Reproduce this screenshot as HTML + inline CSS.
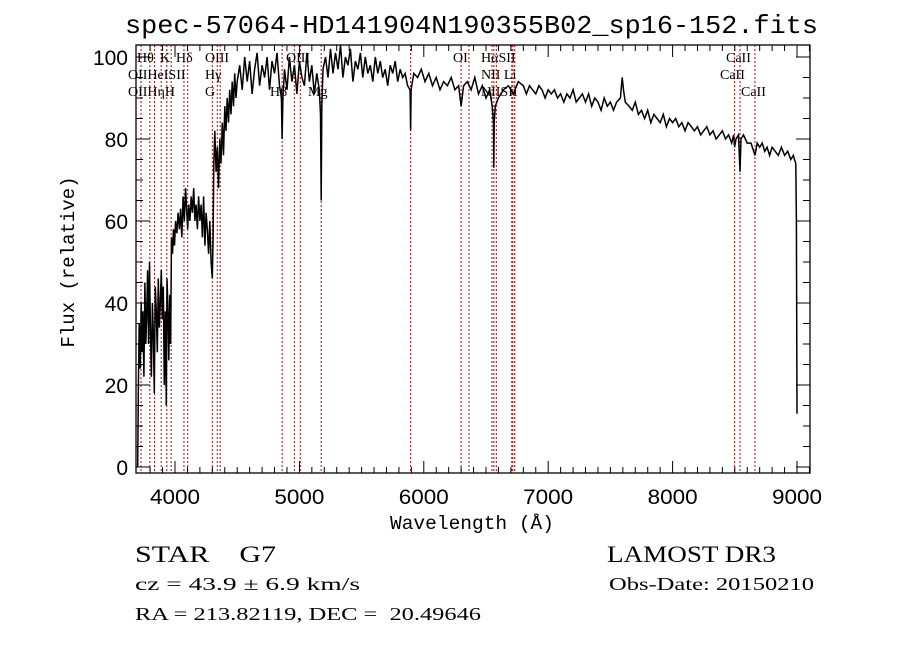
<!DOCTYPE html>
<html><head><meta charset="utf-8"><style>
body{margin:0;background:#fff;}
svg{display:block;}
</style></head><body>
<svg id="chart" width="900" height="649" xmlns="http://www.w3.org/2000/svg">
<rect width="900" height="649" fill="#fff"/>
<text x="125" y="33" textLength="693" lengthAdjust="spacingAndGlyphs" font-family="Liberation Mono, monospace" font-size="26">spec-57064-HD141904N190355B02_sp16-152.fits</text>
<g id="lines"></g>
<g id="labels"></g>
<path id="spec" fill="none" stroke="#000" stroke-width="1.5"/>
<g id="axes"></g>
<text x="390" y="529" textLength="164" lengthAdjust="spacingAndGlyphs" font-family="Liberation Mono, monospace" font-size="19">Wavelength (Å)</text>
<text transform="translate(74,262) rotate(-90)" text-anchor="middle" font-family="Liberation Mono, monospace" font-size="19">Flux (relative)</text>
<text x="135" y="562" textLength="141" lengthAdjust="spacingAndGlyphs" font-family="Liberation Serif, serif" font-size="23" xml:space="preserve">STAR    G7</text>
<text x="607" y="562" textLength="169" lengthAdjust="spacingAndGlyphs" font-family="Liberation Serif, serif" font-size="23">LAMOST DR3</text>
<text x="135" y="590" textLength="225" lengthAdjust="spacingAndGlyphs" font-family="Liberation Serif, serif" font-size="18">cz = 43.9 ± 6.9 km/s</text>
<text x="609" y="590" textLength="205" lengthAdjust="spacingAndGlyphs" font-family="Liberation Serif, serif" font-size="18">Obs-Date: 20150210</text>
<text x="135" y="620" textLength="346" lengthAdjust="spacingAndGlyphs" font-family="Liberation Serif, serif" font-size="18" xml:space="preserve">RA = 213.82119, DEC =  20.49646</text>
</svg>
<script>
const wavelengths=[
3700,3705,3712,3720,3728,3735,3742,3750,3758,3765,
3772,3780,3788,3795,3802,3810,3818,3826,3834,3842,
3850,3858,3866,3874,3882,3890,3898,3906,3914,3922,
3930,3936,3942,3950,3958,3965,3972,3980,3988,3996,
4005,4015,4025,4035,4045,4055,4065,4075,4085,4095,
4102,4110,4120,4130,4140,4150,4160,4170,4180,4190,
4200,4210,4220,4230,4240,4250,4260,4270,4280,4290,
4300,4306,4312,4320,4330,4340,4350,4360,4370,4380,
4390,4400,4410,4420,4430,4440,4450,4460,4470,4480,
4490,4500,4520,4540,4560,4580,4600,4620,4640,4660,
4680,4700,4720,4740,4760,4780,4800,4820,4840,4855,
4861,4867,4880,4900,4920,4940,4960,4980,5000,5020,
5040,5060,5080,5100,5120,5140,5160,5170,5175,5180,
5190,5210,5230,5250,5270,5290,5310,5330,5350,5370,
5390,5410,5430,5450,5470,5490,5510,5530,5550,5570,
5590,5610,5630,5650,5670,5690,5710,5730,5750,5770,
5790,5810,5830,5850,5870,5890,5894,5898,5920,5950,
5980,6010,6040,6070,6100,6130,6160,6190,6220,6250,
6280,6300,6320,6350,6380,6410,6440,6470,6500,6530,
6550,6560,6563,6566,6575,6600,6640,6680,6720,6760,
6800,6825,6850,6875,6900,6925,6950,6975,7000,7025,
7050,7075,7100,7125,7150,7175,7200,7225,7250,7275,
7300,7325,7350,7375,7400,7425,7450,7475,7500,7525,
7550,7580,7595,7605,7620,7650,7675,7700,7725,7750,
7775,7800,7825,7850,7875,7900,7925,7950,7975,8000,
8025,8050,8075,8100,8125,8150,8175,8200,8225,8250,
8275,8300,8325,8350,8375,8400,8425,8450,8475,8490,
8498,8510,8530,8542,8550,8570,8600,8630,8662,8680,
8700,8720,8740,8760,8780,8800,8825,8850,8875,8900,
8925,8950,8970,8980,8990,8995,9000];
const fluxes=[
0,18,35,24,40,28,38,22,45,30,
36,48,30,50,34,22,40,32,18,44,
38,28,46,34,40,48,36,44,20,38,
15,46,40,26,42,30,56,52,58,54,
60,57,62,58,63,56,66,60,68,62,
58,64,60,66,62,68,60,64,58,66,
60,64,56,66,54,62,58,52,60,50,
46,56,74,82,72,78,68,80,74,84,
76,88,82,90,84,92,86,94,88,96,
90,94,98,92,100,94,99,91,97,101,
93,98,95,100,92,99,96,101,93,90,
80,90,97,92,100,94,98,91,99,95,
93,101,94,98,91,96,92,86,65,88,
97,100,95,102,96,101,97,103,95,100,
98,102,94,99,97,101,95,100,96,98,
94,100,96,99,95,97,93,98,96,99,
94,97,95,96,93,92,82,92,96,95,
97,94,96,93,95,92,94,93,95,92,
93,88,93,94,92,95,91,93,90,92,
88,84,73,84,88,90,92,93,91,94,
93,91,93,92,91,93,92,90,92,91,
92,90,91,89,91,90,92,89,90,91,
89,91,88,90,89,87,90,88,89,87,
89,90,95,92,89,88,87,89,86,87,
85,87,84,86,85,84,86,83,85,84,
85,83,84,82,84,83,82,83,81,82,
83,81,82,80,81,82,80,81,79,81,
78,80,81,72,80,81,79,79,76,79,
78,79,77,78,76,78,77,76,78,76,
77,75,76,75,74,60,13];
const yTicks=[0,20,40,60,80,100];
const xTicks=[4000,5000,6000,7000,8000,9000];
const lineWaves=[3727,3798,3835,3889,3934,3969,4072,4102,4300,4340,4363,4861,4959,5007,5175,5894,6300,6363,6548,6563,6583,6707,6716,6731,8498,8542,8662];
const lineNames=["Hθ","K","Hδ","OIII","OIII","OI","HαSII","CaII","OIIHeISII","Hγ","NII Li","CaII","OIIHηH","G","Hβ","Mg","NIISII","CaII"];
const labelX=[137,160,176,205,286,453,481,726,128,205,481,720,128,205,270,308,481,741];
const labelRow=[0,0,0,0,0,0,0,0,1,1,1,1,2,2,2,2,2,2];

const X0=136,X1=810,Y0=45,Y1=473;
const xScale=0.1244;
function xs(w){return 175+(w-4000)*xScale;}
function ys(f){return 467-f*4.1;}
const ns="http://www.w3.org/2000/svg";
function mk(tag,attrs,parent){const e=document.createElementNS(ns,tag);for(const k in attrs)e.setAttribute(k,attrs[k]);parent.appendChild(e);return e;}

const lg=document.getElementById('lines');
lineWaves.forEach(w=>{
  const l=mk('line',{x1:xs(w),x2:xs(w),y1:Y0,y2:Y1,stroke:'#c00000','stroke-width':1,'stroke-dasharray':'2,2'},lg);
  
  
});
const lb=document.getElementById('labels');
lineNames.forEach((n,i)=>{
  const t=mk('text',{x:labelX[i],y:62+labelRow[i]*17,'font-family':'Liberation Serif, serif','font-size':14},lb);
  t.textContent=n;
  
  
});

let d='';
wavelengths.forEach((w,i)=>{d+=(i?'L':'M')+xs(w).toFixed(1)+','+Math.max(Y0,ys(fluxes[i])).toFixed(1);});
document.getElementById('spec').setAttribute('d',d);

const ax=document.getElementById('axes');
mk('rect',{x:X0,y:Y0,width:X1-X0,height:Y1-Y0,fill:'none',stroke:'#000','stroke-width':1.3},ax);
for(let w=3800;w<=9100;w+=100){
  const major=w%1000===0, len=major?12:6;
  mk('line',{x1:xs(w),x2:xs(w),y1:Y1,y2:Y1-len,stroke:'#000'},ax);
  mk('line',{x1:xs(w),x2:xs(w),y1:Y0,y2:Y0+len,stroke:'#000'},ax);
}
xTicks.forEach(w=>{
  const t=mk('text',{x:xs(w)-25,y:Y1+31,textLength:50,lengthAdjust:'spacingAndGlyphs','font-family':'Liberation Sans, sans-serif','font-size':21},ax);
  t.textContent=w;
  
  
});
for(let f=0;f<=100;f+=5){
  const major=f%20===0, len=major?14:7;
  mk('line',{x1:X0,x2:X0+len,y1:ys(f),y2:ys(f),stroke:'#000'},ax);
  mk('line',{x1:X1,x2:X1-len,y1:ys(f),y2:ys(f),stroke:'#000'},ax);
}
yTicks.forEach(f=>{
  const t=mk('text',{x:X0-8,y:ys(f)+8,'text-anchor':'end','font-family':'Liberation Sans, sans-serif','font-size':21},ax);
  t.textContent=f;
  
  
});
</script>
</body></html>
